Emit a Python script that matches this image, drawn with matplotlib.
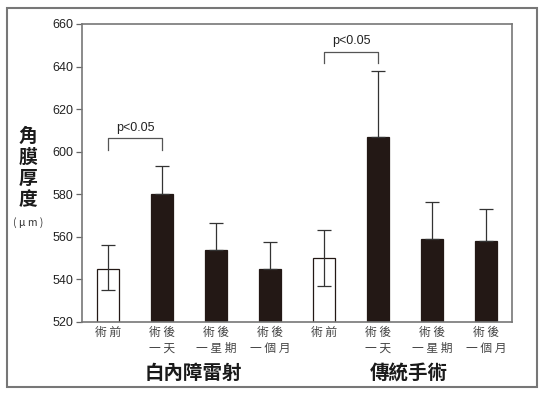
import numpy as np
import matplotlib
matplotlib.use('Agg')
import matplotlib.pyplot as plt
from matplotlib.patches import Rectangle

plt.rcParams['font.family'] = ['Liberation Sans', 'Noto Sans CJK TC', 'DejaVu Sans']

# datos
etiquetas = ['術 前', '術 後\n一 天', '術 後\n一 星 期', '術 後\n一 個 月',
             '術 前', '術 後\n一 天', '術 後\n一 星 期', '術 後\n一 個 月']
medias = [545, 580, 554, 545, 550, 607, 559, 558]
err_inf = [10, 0, 0, 0, 13, 0, 0, 0]
err_sup = [11, 13.5, 12.5, 12.5, 13, 31, 17.5, 15]
es_blanca = [True, False, False, False, True, False, False, False]
grupos = ['白內障雷射', '傳統手術']
# comparaciones: (barra a, barra b, altura, texto)
comparaciones = [(0, 1, 606.5, 'p<0.05'), (4, 5, 647, 'p<0.05')]

fig = plt.figure(figsize=(5.44, 3.95), dpi=100)
ax = fig.add_axes([82/544, 1-322/395, 430/544, 298/395])

x = np.arange(len(medias))
colores = ['white' if b else '#231815' for b in es_blanca]
ax.bar(x, [m - 520 for m in medias], bottom=520, width=0.41,
       color=colores, edgecolor='#231815', linewidth=0.9, zorder=2)
ax.errorbar(x, medias, yerr=[err_inf, err_sup], fmt='none', ecolor='#333333',
            elinewidth=0.9, capsize=5, capthick=0.9, zorder=3)

# corchetes de significancia
for a, b, h, txt in comparaciones:
    ax.plot([a, a, b, b], [h - 5.5, h, h, h - 5.5], color='#555555', lw=0.9)
    ax.text((a + b) / 2, h + 2, txt, ha='center', va='bottom', fontsize=9,
            color='#222222')

ax.set_xlim(-0.48, 7.48)
ax.set_ylim(520, 660)
ax.set_yticks(np.arange(520, 661, 20))
ax.tick_params(axis='y', direction='out', length=4, width=0.9, color='#666666',
               labelsize=9, labelcolor='#222222', pad=2)
ax.set_xticks(x)
ax.set_xticklabels(etiquetas, family=['Noto Sans CJK TC'], fontsize=8.5,
                   color='#444444', linespacing=1.25, va='top')
ax.tick_params(axis='x', length=0, pad=3)
for s in ax.spines.values():
    s.set_color('#777777')
    s.set_linewidth(1.2)

# etiquetas de grupo
for g, cx in zip(grupos, [193, 409]):
    fig.text(cx/544, 1 - 373/395, g, ha='center', va='center',
             family=['Noto Sans CJK TC'], fontsize=14, fontweight='bold',
             color='#1a1a1a')

# etiqueta del eje y
fig.text(28/544, 1 - 168/395, '角\n膜\n厚\n度', ha='center', va='center',
         family=['Noto Sans CJK TC'], fontsize=13.5, fontweight='bold', linespacing=1.12,
         color='#1a1a1a')
fig.text(28/544, 1 - 223/395, '( μ m )', ha='center', va='center',
         family=['Noto Sans CJK TC', 'DejaVu Sans'], fontsize=7.5, color='#333333')

# marco exterior
fig.patches.append(Rectangle((7/544, 1 - 387/395), 530/544, 379/395,
                             transform=fig.transFigure, fill=False,
                             edgecolor='#777777', linewidth=1.5))

fig.savefig('out.png', dpi=100)
